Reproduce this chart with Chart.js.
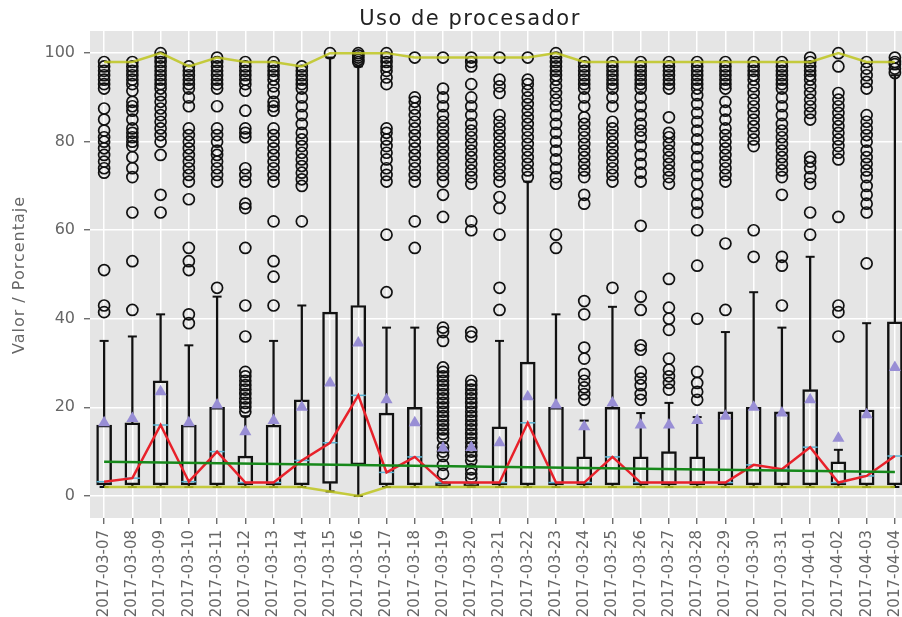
<!DOCTYPE html>
<html>
<head>
<meta charset="utf-8">
<script src="https://cdn.jsdelivr.net/npm/chart.js"></script>
<style>
  html, body { margin: 0; padding: 0; background: #fff; overflow: hidden; }
  #wrap { width: 920px; height: 617px; }
</style>
</head>
<body>
<div id="wrap"><canvas id="cpuChart" width="920" height="617"></canvas></div>
<script>
// Datos
const titleText = 'Uso de procesador';
const yLabel = 'Valor / Porcentaje';
const dates = ['2017-03-07','2017-03-08','2017-03-09','2017-03-10','2017-03-11','2017-03-12','2017-03-13',
  '2017-03-14','2017-03-15','2017-03-16','2017-03-17','2017-03-18','2017-03-19','2017-03-20','2017-03-21',
  '2017-03-22','2017-03-23','2017-03-24','2017-03-25','2017-03-26','2017-03-27','2017-03-28','2017-03-29',
  '2017-03-30','2017-03-31','2017-04-01','2017-04-02','2017-04-03','2017-04-04'];
const yTicks = [0, 20, 40, 60, 80, 100];

const q1 = [2.5,2.5,2.5,2.5,2.5,2.5,2.5,2.5,2.8,7,2.5,2.5,2.3,2.3,2.5,2.5,2.5,2.5,2.5,2.5,2.5,2.5,2.5,2.5,2.5,2.5,2.5,2.5,2.5];
const q3 = [16,16.5,26,16,20,9,16,21.7,41.5,43,18.7,20,3,3,15.6,30.2,20,8.8,20,8.8,10,8.8,19,20,19,24,7.7,19.4,39.3];
const medians = [3.2,4,16,3.2,10,3,3,8,12,22.7,5.3,8.8,3,3,3,16.5,3,3,8.8,3,3,3,3,7,6,11,3,4.5,9];
const whiskerHigh = [35,36,41,34,45,18,35,43,99,97,38,38,3,3,35,71,41,17,42.7,18.7,21,17.8,37,46,38,54,10.4,39,95];
const whiskerLow = [2,2,2,2,2,2,2,2,1,0,2,2,2,2,2,2,2,2,2,2,2,2,2,2,2,2,2,2,2];
const means = [16.5,17.5,23.5,16.5,20.5,14.5,17,20,25.5,34.5,21.7,16.5,10.8,10.9,12,22.4,20.5,15.6,21,16,16,17,18,20,18.7,21.7,13,18.3,29];
const maxVals = [98,98,100,97,99,98,98,97,100,100,100,99,99,99,99,99,100,98,98,98,98,98,98,98,98,98,100,98,98];
const minVals = [2,2,2,2,2,2,2,2,1,0,2,2,2,2,2,2,2,2,2,2,2,2,2,2,2,2,2,2,2];
const trendX = [0, 28];
const trendY = [7.7, 5.4];

const outliers = [
  [41.5,43,51,73,74,75.5,77,78.5,80,81,82.5,85,87.5,92,93,94,95,96,97,98],
  [42,53,64,72,74,76.5,79,80,81,82,83,85,87,88,89,91.5,93,94,95,96,97,98],
  [64,68,77,80,81.5,83,84.5,86,87.5,89,90.5,92,93,94,95,96,97,98,99,100],
  [39,41,51,53,56,67,71,72.5,74,75.5,77,78.5,80,81.5,83,88,90,92,93,94,95,96,97],
  [47,71,72.5,74,75.5,77,78,80,81.5,83,88,92,93,94,95,96,97,98,99],
  [19,20,21,22,23,24,25,26,27,28,36,43,56,65,66,71,72.5,74,81,82,83,87,91.5,93,94,95,96,97,98],
  [43,49.5,53,62,71,72.5,74,75.5,77,78.5,80,81.5,83,87,88,89,91,92.5,94,95,96,97,98],
  [62,70,71.5,73,74.5,76,77.5,79,80.5,82,84,86,88,90,92,93,94,95,96,97],
  [100],
  [98,98.5,99,99.5,100],
  [46,59,71,72.5,74,76,77.5,79,80.5,82,83,93,94.5,96,97,98,99,100],
  [56,62,71,72.5,74,75.5,77,78.5,80,81.5,83,84.5,86,87.5,89,90,99],
  [5,7,9,10,11,13,14,15,16,17,18,19,20,21,22,23,24,25,26,27,28,29,35,37,38,
   63,68,71,72.5,74,75.5,77,78.5,80,81.5,83,84.5,86,88,90,92,99],
  [4,5,6,8,9,10,11,12,13,14,15,16,17,18,19,20,21,22,23,24,25,26,36,37,
   60,62,70.5,72,73.5,75,76.5,78,79.5,81,82.5,84,86,88,90,93,97,98,99],
  [42,47,59,65,67.5,71,72.5,74,75.5,77,78.5,80,81.5,83,84.5,86,91,92.5,94,99],
  [72,73.5,75,76.5,78,79.5,81,82.5,84,85.5,87,88.5,90,91.5,93,94,99],
  [56,59,70.5,72,74,76,78,80,82,84,86,88,89.5,91,92.5,94,95,96,97,98,99,100],
  [21.7,23,24.5,26,27.5,31,33.5,41,44,66,68,72,73.5,75,76.5,78,79.5,81,82.5,84,85.5,88,90,92,93,94,95,96,97,98],
  [47,71,72.5,74,75.5,77,78.5,80,81.5,83,84.5,88,90,92,93,94,95,96,97,98],
  [21.7,23,25,26.5,28,33,34,42,45,61,71,73,75,77,79,81,82.5,84,86,88,90,92,93,94,95,96,97,98],
  [24,25.5,27,28.5,31,37.5,40,42.5,49,70.5,72,73.5,75,76.5,78,79.5,81,82,85.5,92,93,94,95,96,97,98],
  [21.7,23.5,25.5,28,40,52,60,64,66,68,70.5,72.5,74.5,76.5,78.5,80.5,82.5,84.5,86.5,88.5,90.5,92,93,94,95,96,97,98],
  [42,57,71,72.5,74,75.5,77,78.5,80,81.5,83,85,87,89,92,93,94,95,96,97,98],
  [54,60,79,80.5,82,83.5,85,86.5,88,89.5,91,92.5,94,95,96,97,98],
  [43,52,54,68,72,73.5,75,76.5,78,79.5,81,82.5,84,86,88,90,92,93,94,95,96,97,98],
  [59,64,70.5,72,74,75.5,76.5,85,86.5,88,89.5,91,92.5,94,95,96,97,98,99],
  [36,41.5,43,63,76,77.5,79,80.5,82,83.5,85,86.5,88,89.5,91,97,100],
  [52.5,64,66,68,70,72,73.5,75,76.5,78,80,81.5,83,84.5,86,92,93.5,95,96.5,98],
  [95.5,96.5,97.5,98,99]
];

// Construir puntos
const pts = arr => arr.map((v, i) => ({ x: i, y: v }));
const range = (a, b) => a.map((v, i) => ({ x: i, y: [v, b[i]] }));
const outlierPts = outliers.flatMap((list, i) => list.map(v => ({ x: i, y: v })));

// Fondo gris y textos
const decor = {
  id: 'decor',
  beforeDraw(chart) {
    const { ctx, chartArea: a } = chart;
    ctx.save();
    ctx.fillStyle = '#e5e5e5';
    ctx.fillRect(a.left, a.top, a.right - a.left, a.bottom - a.top);
    ctx.restore();
  },
  afterDraw(chart) {
    const ctx = chart.ctx;
    ctx.save();
    ctx.letterSpacing = '1.5px';
    ctx.font = '21px "DejaVu Sans"';
    ctx.fillStyle = '#222';
    ctx.textAlign = 'center';
    ctx.textBaseline = 'alphabetic';
    ctx.fillText(titleText, 470, 25);
    ctx.translate(20, 275);
    ctx.rotate(-Math.PI / 2);
    ctx.letterSpacing = '1px';
    ctx.font = '16px "DejaVu Sans"';
    ctx.fillStyle = '#666';
    ctx.textBaseline = 'middle';
    ctx.fillText(yLabel, 0, 0);
    ctx.restore();
  }
};

const ctx = document.getElementById('cpuChart').getContext('2d');
const cpuChart = new Chart(ctx, {
  type: 'scatter',
  data: {
    datasets: [
      { type: 'line', data: pts(maxVals), borderColor: 'rgba(190,198,30,0.85)', borderWidth: 2.5, pointRadius: 0, order: 0 },
      { type: 'line', data: pts(minVals), borderColor: 'rgba(190,198,30,0.85)', borderWidth: 2.5, pointRadius: 0, order: 1 },
      { type: 'line', data: trendX.map((x, i) => ({ x: x, y: trendY[i] })), borderColor: '#16881a', borderWidth: 2.5, pointRadius: 0, order: 2 },
      { type: 'line', data: pts(medians), borderColor: '#e8212a', borderWidth: 2.5, pointRadius: 0, order: 3 },
      { data: pts(means), pointStyle: 'triangle', pointRadius: 7, backgroundColor: '#988ed5', borderWidth: 0, order: 4 },
      { data: pts(medians), pointStyle: 'line', pointRadius: 7.5, borderColor: '#5ab4d4', borderWidth: 1.5, order: 5 },
      { data: outlierPts, pointStyle: 'circle', pointRadius: 5.5, borderColor: '#111', backgroundColor: 'rgba(0,0,0,0)', borderWidth: 1.7, order: 6 },
      { data: pts(whiskerHigh), pointStyle: 'line', pointRadius: 4.5, borderColor: '#111', borderWidth: 2, order: 7 },
      { data: pts(whiskerLow), pointStyle: 'line', pointRadius: 4.5, borderColor: '#111', borderWidth: 2, order: 7 },
      { type: 'bar', data: range(q3, whiskerHigh), backgroundColor: '#111', borderWidth: 0, barThickness: 1.6, grouped: false, order: 8 },
      { type: 'bar', data: range(whiskerLow, q1), backgroundColor: '#111', borderWidth: 0, barThickness: 1.6, grouped: false, order: 8 },
      { type: 'bar', data: range(q1, q3), backgroundColor: 'rgba(0,0,0,0)', borderColor: '#111', borderWidth: 1.8,
        borderSkipped: false, barThickness: 15, grouped: false, order: 9 }
    ]
  },
  options: {
    responsive: false,
    animation: false,
    events: [],
    layout: { padding: { top: 31, right: 11, left: 0, bottom: 0 } },
    plugins: { legend: { display: false }, tooltip: { enabled: false }, title: { display: false } },
    scales: {
      x: {
        type: 'linear',
        min: -0.5,
        max: 28.5,
        offset: false,
        afterFit: scale => { scale.height = 99; },
        afterBuildTicks: scale => { scale.ticks = dates.map((d, i) => ({ value: i })); },
        grid: { color: '#ffffff', lineWidth: 1.5, tickColor: '#555', tickLength: 6, tickWidth: 1.2, offset: false },
        border: { display: false },
        ticks: {
          autoSkip: false, minRotation: 90, maxRotation: 90, padding: 6,
          color: '#666', font: { family: 'DejaVu Sans', size: 15 },
          callback: v => dates[v]
        }
      },
      y: {
        type: 'linear',
        min: -5,
        max: 105,
        afterFit: scale => { scale.width = 90; },
        afterBuildTicks: scale => { scale.ticks = yTicks.map(v => ({ value: v })); },
        grid: { color: '#ffffff', lineWidth: 1.5, tickColor: '#555', tickLength: 6, tickWidth: 1.2 },
        border: { display: false },
        ticks: { padding: 9, color: '#666', font: { family: 'DejaVu Sans', size: 16 } }
      }
    }
  },
  plugins: [decor]
});
</script>
</body>
</html>
